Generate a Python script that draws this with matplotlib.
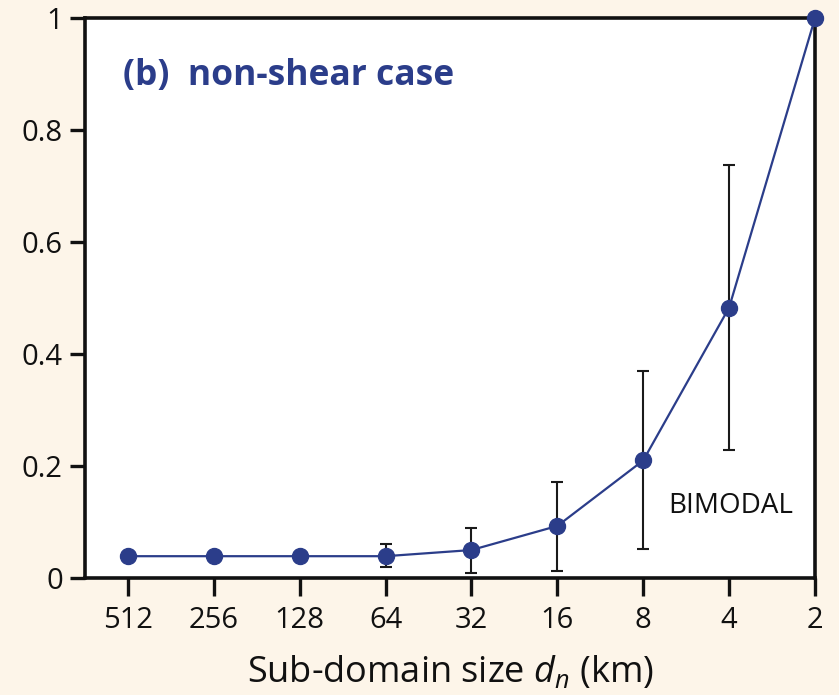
import matplotlib
matplotlib.use("Agg")
import matplotlib.pyplot as plt
import numpy as np

plt.rcParams['font.family'] = ['Open Sans', 'DejaVu Sans']
plt.rcParams['mathtext.fontset'] = 'custom'
plt.rcParams['mathtext.rm'] = 'Open Sans'
plt.rcParams['mathtext.it'] = 'Open Sans:italic'

# Sub-domain sizes (km) and the corresponding mean values with error bounds
sizes = ["512", "256", "128", "64", "32", "16", "8", "4", "2"]
mean_vals = [0.039, 0.039, 0.039, 0.039, 0.050, 0.093, 0.210, 0.483, 1.0]
upper_vals = [0.039, 0.039, 0.039, 0.061, 0.089, 0.172, 0.370, 0.738, 1.0]
lower_vals = [0.039, 0.039, 0.039, 0.020, 0.009, 0.013, 0.052, 0.229, 1.0]
y_ticks = [0, 0.2, 0.4, 0.6, 0.8, 1.0]
y_tick_labels = ["0", "0.2", "0.4", "0.6", "0.8", "1"]

bg = "#fdf5e9"
blue = "#2b3d8a"

fig = plt.figure(figsize=(8.39, 6.95), dpi=100, facecolor=bg)
ax = fig.add_axes([0.1013, 0.1683, 0.8701, 0.8057])
ax.set_facecolor("white")

x = np.arange(len(sizes))
mean = np.array(mean_vals)
yerr = np.vstack([mean - np.array(lower_vals), np.array(upper_vals) - mean])
has_err = yerr.sum(axis=0) > 0

ax.errorbar(x[has_err], mean[has_err], yerr=yerr[:, has_err], fmt='none',
            ecolor='#1a1a1a', elinewidth=1.5, capsize=4.5, capthick=1.5, zorder=2)
ax.plot(x, mean, color=blue, lw=1.6, marker='o', ms=11.5,
        markerfacecolor=blue, markeredgecolor=blue, zorder=3, clip_on=False)

ax.set_xlim(-0.5, 8.0)
ax.set_ylim(0, 1)
ax.set_xticks(x)
ax.set_xticklabels(sizes)
ax.set_yticks(y_ticks)
ax.set_yticklabels(y_tick_labels)

for s in ax.spines.values():
    s.set_linewidth(2.6)
    s.set_color('#111111')

ax.tick_params(axis='both', direction='out', length=11, width=2.4,
               labelsize=21, color='#111111', labelcolor='#111111')
ax.tick_params(axis='x', length=13, pad=7)
ax.tick_params(axis='y', pad=5)

ax.set_xlabel(r"Sub-domain size $d_{n}$ (km)", fontsize=26, color='#111111', labelpad=14)

ax.text(0.052, 0.897, "(b)  non-shear case", transform=ax.transAxes,
        fontsize=25.5, fontweight='bold', color=blue, va='center', ha='left')
ax.text(0.799, 0.128, "BIMODAL", transform=ax.transAxes,
        fontsize=20, color='#111111', va='center', ha='left')

fig.savefig("out.png", dpi=100, facecolor=bg)
